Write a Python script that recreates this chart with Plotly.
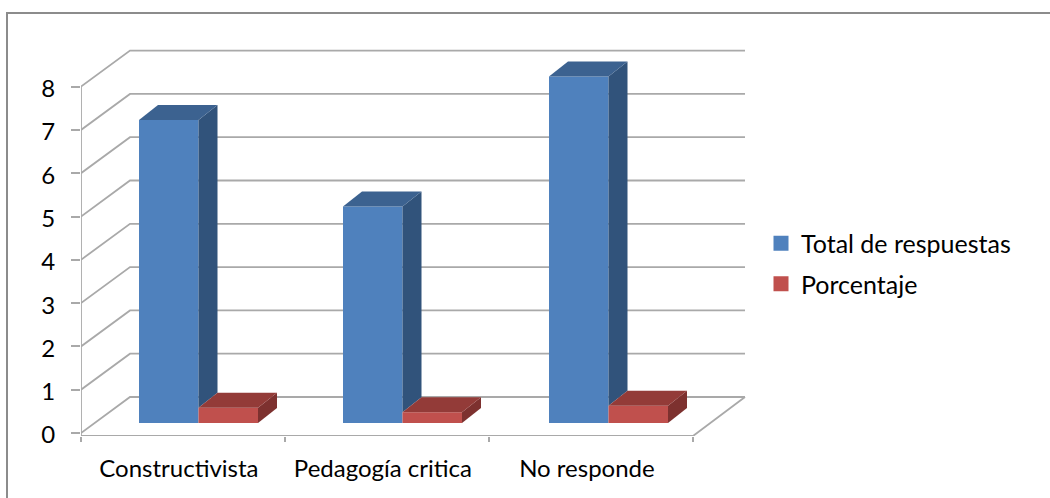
import plotly.graph_objects as go

categories = ["Constructivista", "Pedagogía critica", "No responde"]
total = [7, 5, 8]
porcentaje = [0.35, 0.25, 0.40]
y_ticks = [0, 1, 2, 3, 4, 5, 6, 7, 8]

W, H = 1050, 498
L, R = 81, 1050
T, B = 14, 436
PX_X = 204.0   # pixels per category
PX_Y = 43.3    # pixels per value unit
Y0_PX = 433    # pixel of value 0 on the front axis

xr = [0, (R - L) / PX_X]
yr = [(Y0_PX - B) / PX_Y, (Y0_PX - T) / PX_Y]
dx = lambda p: p / PX_X
dy = lambda p: p / PX_Y

GRID = "#A9A9A9"
BLUE, BLUE_TOP, BLUE_SIDE = "#4F81BD", "#3C6290", "#31537B"
RED, RED_TOP, RED_SIDE = "#C0504D", "#933B38", "#7D312F"
FONT = "Lato"

DEPTH_X, DEPTH_Y = dx(49), dy(36)
BACK_END = 3 + dx(52)
BAR_DX, BAR_DY = dx(19), dy(15)
BAR_W = dx(59.5)
BAR_START = dx(58)
BASE = dy(10)

fig = go.Figure()

# walls and gridlines
shapes = []
for v in y_ticks:
    shapes.append(dict(type="path", xref="x", yref="y", layer="below",
                       path=f"M0,{v} L{DEPTH_X},{v + DEPTH_Y} L{BACK_END},{v + DEPTH_Y}",
                       line=dict(color=GRID, width=1.8)))
floor_y = yr[0]
shapes.append(dict(type="path", xref="x", yref="y", layer="below",
                   path=f"M0,8 L0,{floor_y} L3,{floor_y} L{BACK_END},{DEPTH_Y}",
                   line=dict(color=GRID, width=1.8)))
# chart frame
shapes.append(dict(type="rect", xref="paper", yref="paper", layer="below",
                   x0=(7 - L) / (R - L), x1=(1070 - L) / (R - L),
                   y0=(B - 520) / (B - T), y1=(B - 13) / (B - T),
                   line=dict(color="#8C8C8C", width=2)))


def faces(x_left, value, width, top_color, side_color, hidden_below=0.0):
    top = BASE + value
    low = BASE + hidden_below
    xr_ = x_left + width
    fig.add_trace(go.Scatter(
        x=[xr_, xr_ + BAR_DX, xr_ + BAR_DX, xr_, xr_],
        y=[low, low + BAR_DY, top + BAR_DY, top, low],
        mode="lines", fill="toself", fillcolor=side_color, line=dict(width=0),
        showlegend=False, hoverinfo="skip", cliponaxis=False))
    fig.add_trace(go.Scatter(
        x=[x_left, x_left + BAR_DX, xr_ + BAR_DX, xr_, x_left],
        y=[top, top + BAR_DY, top + BAR_DY, top, top],
        mode="lines", fill="toself", fillcolor=top_color, line=dict(width=0),
        showlegend=False, hoverinfo="skip", cliponaxis=False))


positions = [0, 1, 2]
blue_left = [p + BAR_START for p in positions]
blue_left[2] += dx(2)
red_left = [p + BAR_W for p in blue_left]

fig.add_trace(go.Bar(x=blue_left, y=total, base=BASE, width=BAR_W, offset=0,
                     marker=dict(color=BLUE, line=dict(width=0)),
                     showlegend=False, hoverinfo="skip"))
fig.add_trace(go.Bar(x=red_left, y=porcentaje, base=BASE, width=BAR_W, offset=0,
                     marker=dict(color=RED, line=dict(width=0)),
                     showlegend=False, hoverinfo="skip"))
for x0, v, r in zip(blue_left, total, porcentaje):
    faces(x0, v, BAR_W, BLUE_TOP, BLUE_SIDE, hidden_below=r)
for x0, v in zip(red_left, porcentaje):
    faces(x0, v, BAR_W, RED_TOP, RED_SIDE)

# legend entries
for name, color in (("Total de respuestas", BLUE), ("Porcentaje", RED)):
    fig.add_trace(go.Scatter(x=[None], y=[None], mode="markers", name=name, legendgroup=name,
                             marker=dict(symbol="square", size=15, color=color)))

fig.update_layout(
    width=W, height=H, autosize=False,
    margin=dict(l=L, r=W - R, t=T, b=H - B, pad=0),
    paper_bgcolor="white", plot_bgcolor="rgba(0,0,0,0)",
    barmode="overlay", shapes=shapes, showlegend=True,
    font=dict(family=FONT, size=24, color="#000000"),
    legend=dict(x=(761 - L) / (R - L), xanchor="left", y=(B - 263.5) / (B - T), yanchor="middle",
                bgcolor="rgba(0,0,0,0)", tracegroupgap=5, font=dict(size=25, family=FONT)),
    xaxis=dict(range=xr, showgrid=False, zeroline=False, showline=False,
               tickvals=[p + 0.48 for p in positions], ticktext=categories,
               ticks="", ticklabelstandoff=16,
               minor=dict(tickvals=[0, 1, 2, 3], ticks="outside", ticklen=5, tickwidth=1.6,
                          tickcolor=GRID, showgrid=False)),
    yaxis=dict(range=yr, showgrid=False, zeroline=False, showline=False,
               tickvals=y_ticks, ticks="outside", ticklen=9, tickwidth=1.6, tickcolor=GRID,
               ticklabelstandoff=11, ticklabelshift=2),
)

fig.write_html("out.html", config=dict(displayModeBar=False),
               post_script="document.body.style.margin='0';")
